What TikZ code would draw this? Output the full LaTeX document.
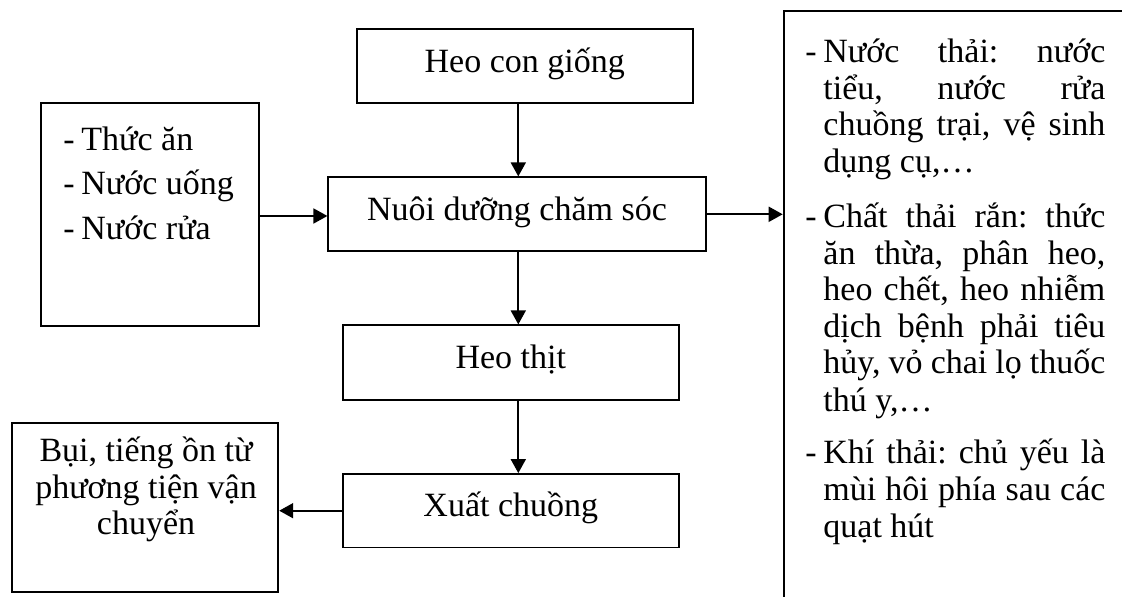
\documentclass[tikz,border=0pt]{standalone}
\usepackage{fontspec}
\setmainfont{Liberation Serif}
\usetikzlibrary{arrows.meta}
\frenchspacing

% text set at one size throughout
\newcommand\diagfont{\fontsize{17pt}{20pt}\selectfont}
% justified line of the waste list, and the hanging dash before an item
\newlength\wastew
\setlength\wastew{141pt}
\newcommand\fullline[1]{\makebox[\wastew][s]{#1}}
\newcommand\itemdash{\llap{\makebox[9pt][l]{-}}}

\begin{document}
\begin{tikzpicture}[x=0.5pt,y=-0.5pt,
  box/.style={draw, line width=0.9pt, inner sep=0pt, rectangle},
  stagebox/.style={box, font=\diagfont, text height=11pt, text depth=5pt},
  txt/.style={inner sep=0pt, font=\diagfont},
  flow/.style={line width=0.9pt, -{Triangle[length=7pt,width=7.5pt]}}]

\useasboundingbox (0,0) rectangle (1122,597);
\fill[white] (0,0) rectangle (1122,597);
\clip (0,0) rectangle (1122,597);

% main production line
\node[stagebox, minimum width=168pt, minimum height=37pt] (hcg) at (524.7,66.3) {Heo con giống};
\node[stagebox, minimum width=188.7pt, minimum height=37pt] (nuoi) at (517,214.3) {Nuôi dưỡng chăm sóc};
\node[stagebox, minimum width=168.2pt, minimum height=37.2pt] (thit) at (510.8,362.5) {Heo thịt};
\node[stagebox, minimum width=168.2pt, minimum height=36.7pt] (xuat) at (510.8,510.7) {Xuất chuồng};

% inputs
\node[box, minimum width=108.85pt, minimum height=111.2pt] (inp) at (149.85,214.5) {};
\node[txt, anchor=base west] (in1) at (81,150.7) {\itemdash Thức ăn};
\node[txt, anchor=base west] (in2) at (81,195) {\itemdash Nước uống};
\node[txt, anchor=base west] (in3) at (81,239.3) {\itemdash Nước rửa};

% transport emissions
\node[box, minimum width=133.3pt, minimum height=84.5pt] (bui) at (145,507.8) {};
\node[txt, anchor=base] (bu1) at (146,462) {Bụi, tiếng ồn từ};
\node[txt, anchor=base] (bu2) at (146,498) {phương tiện vận};
\node[txt, anchor=base] (bu3) at (146,534) {chuyển};

% waste box, running past the page edge
\node[box, anchor=north west, minimum width=173.5pt, minimum height=310pt] (waste) at (782.7,10) {};
\node[txt, anchor=base west] (w1)  at (823,63)    {\itemdash\fullline{Nước thải: nước}};
\node[txt, anchor=base west] (w2)  at (823,99.5)  {\fullline{tiểu, nước rửa}};
\node[txt, anchor=base west] (w3)  at (823,136)   {\fullline{chuồng trại, vệ sinh}};
\node[txt, anchor=base west] (w4)  at (823,172.5) {dụng cụ,…};
\node[txt, anchor=base west] (w5)  at (823,228)   {\itemdash\fullline{Chất thải rắn: thức}};
\node[txt, anchor=base west] (w6)  at (823,264.5) {\fullline{ăn thừa, phân heo,}};
\node[txt, anchor=base west] (w7)  at (823,301)   {\fullline{heo chết, heo nhiễm}};
\node[txt, anchor=base west] (w8)  at (823,337.5) {\fullline{dịch bệnh phải tiêu}};
\node[txt, anchor=base west] (w9)  at (823,374)   {\fullline{hủy, vỏ chai lọ thuốc}};
\node[txt, anchor=base west] (w10) at (823,412)   {thú y,…};
\node[txt, anchor=base west] (w11) at (823,464)   {\itemdash\fullline{Khí thải: chủ yếu là}};
\node[txt, anchor=base west] (w12) at (823,500.5) {\fullline{mùi hôi phía sau các}};
\node[txt, anchor=base west] (w13) at (823,537)   {quạt hút};

% connectors
\coordinate (axis) at (518.3,0);
\coordinate (inrow) at (0,216);
\draw[flow] (hcg.south -| axis) -- (nuoi.north -| axis);
\draw[flow] (nuoi.south -| axis) -- (thit.north -| axis);
\draw[flow] (thit.south -| axis) -- (xuat.north -| axis);
\draw[flow] (inp.east |- inrow) -- (nuoi.west |- inrow);
\draw[flow] (nuoi.east) -- (nuoi.east -| waste.west);
\draw[flow] (xuat.west) -- (xuat.west -| bui.east);
\end{tikzpicture}
\end{document}
